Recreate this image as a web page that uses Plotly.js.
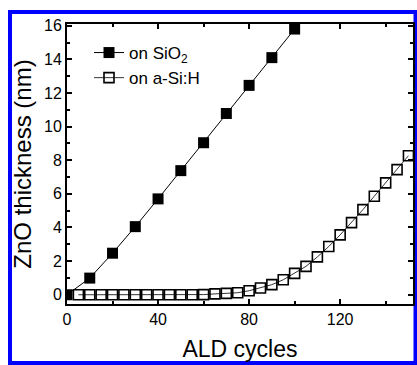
<!DOCTYPE html>
<html>
<head>
<meta charset="utf-8">
<script src="https://cdn.plot.ly/plotly-3.0.1.min.js"></script>
<style>
  html, body { margin: 0; padding: 0; background: #fff; }
  #chart { width: 417px; height: 365px; }
</style>
</head>
<body>
<div id="chart"></div>
<script>
// Data
const sio2Cycles = [0, 10, 20, 30, 40, 50, 60, 70, 80, 90, 100];
const sio2Thickness = [0.0, 0.99, 2.47, 4.05, 5.70, 7.38, 9.04, 10.78, 12.45, 14.1, 15.8];

const asiCycles = [5, 10, 15, 20, 25, 30, 35, 40, 45, 50, 55, 60, 65, 70, 75, 80, 85, 90, 95, 100,
                   105, 110, 115, 120, 125, 130, 135, 140, 145, 150];
const asiThickness = [0, 0, 0, 0, 0, 0, 0, 0, 0, 0, 0, 0.01, 0.05, 0.08, 0.12, 0.24, 0.40, 0.60, 0.89, 1.27,
                      1.69, 2.25, 2.87, 3.56, 4.29, 5.06, 5.86, 6.65, 7.44, 8.27];

const seriesNames = ['on SiO<sub>2</sub>', 'on a-Si:H'];
const xTitle = 'ALD cycles';
const yTitle = 'ZnO thickness (nm)';

const traces = [
  {
    x: sio2Cycles, y: sio2Thickness, name: seriesNames[0],
    type: 'scatter', mode: 'lines+markers',
    line: { color: '#000', width: 1 },
    marker: { symbol: 'square', size: 11, color: '#000' },
    cliponaxis: true
  },
  {
    x: asiCycles, y: asiThickness, name: seriesNames[1],
    type: 'scatter', mode: 'lines+markers',
    line: { color: '#000', width: 0.8 },
    marker: { symbol: 'square-open', size: 10, color: '#000', line: { width: 1.6, color: '#000' } },
    cliponaxis: true
  }
];

// plot area: x 67..413, y 24..304
const L = 67, R = 4, T = 24, B = 61, W = 417, H = 365;
const pw = W - L - R, ph = H - T - B;
const px = v => (v - L) / pw;
const py = v => (H - B - v) / ph;

const FONT = 'Arial, Liberation Sans, sans-serif';

const axisCommon = {
  showgrid: false, zeroline: false,
  showline: true, linecolor: '#000', linewidth: 2, mirror: 'ticks',
  ticks: 'inside', ticklen: 5, tickwidth: 2, tickcolor: '#000',
  tickfont: { family: FONT, size: 16, color: '#000' }
};

const layout = {
  width: W, height: H,
  margin: { l: L, r: R, t: T, b: B, pad: 0 },
  paper_bgcolor: '#fff', plot_bgcolor: '#fff',
  showlegend: true,
  legend: {
    x: px(89), y: py(35), xanchor: 'left', yanchor: 'top',
    bgcolor: 'rgba(0,0,0,0)', borderwidth: 0,
    font: { family: FONT, size: 17, color: '#000' },
    tracegroupgap: 0
  },
  xaxis: Object.assign({}, axisCommon, {
    range: [0, 152], tickmode: 'linear', tick0: 0, dtick: 40,
    minor: { ticks: 'inside', dtick: 20, ticklen: 3, tickwidth: 2, tickcolor: '#000', showgrid: false },
    title: { text: xTitle, font: { family: FONT, size: 23, color: '#000' }, standoff: 14 }
  }),
  yaxis: Object.assign({}, axisCommon, {
    range: [-0.55, 16.1], tickmode: 'linear', tick0: 0, dtick: 2,
    minor: { ticks: 'inside', dtick: 1, ticklen: 3, tickwidth: 2, tickcolor: '#000', showgrid: false },
    title: { text: yTitle, font: { family: FONT, size: 24, color: '#000' }, standoff: 6 }
  }),
  shapes: [
    {
      type: 'rect', xref: 'paper', yref: 'paper',
      x0: px(10), x1: px(415.5), y0: py(363), y1: py(12),
      line: { color: '#0000ff', width: 4 }, fillcolor: 'rgba(0,0,0,0)', layer: 'below'
    }
  ]
};

Plotly.newPlot('chart', traces, layout, { displayModeBar: false, staticPlot: true });
</script>
</body>
</html>
